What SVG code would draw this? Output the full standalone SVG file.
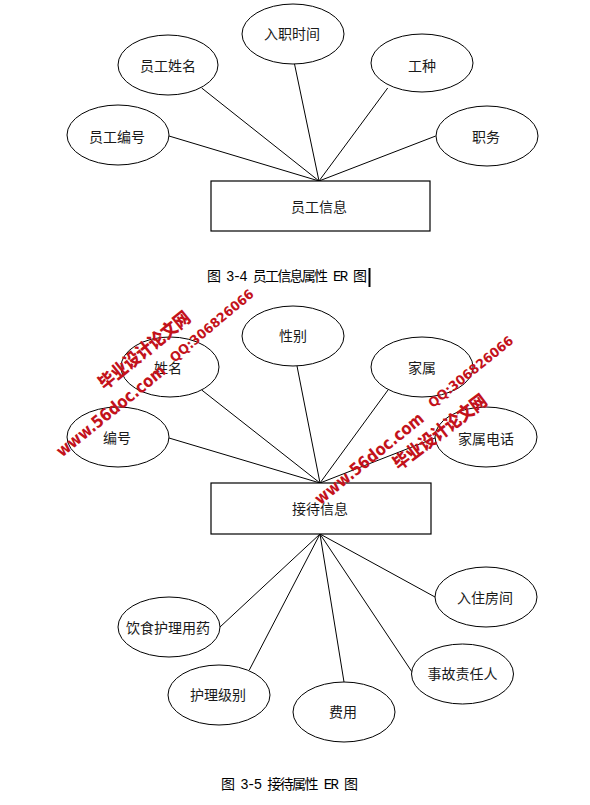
<svg xmlns="http://www.w3.org/2000/svg" width="590" height="805" viewBox="0 0 590 805">
<style>
.e{fill:#fff;stroke:#000;stroke-width:1}
.r{fill:#fff;stroke:#000;stroke-width:1.2}
.l{stroke:#000;stroke-width:1;fill:none}
.t{font-family:"Noto Sans CJK SC","Liberation Sans",sans-serif;font-size:14px;fill:#1a1a1a;text-anchor:middle;dominant-baseline:central}
.cap{font-family:"Liberation Mono","Noto Sans CJK SC",monospace;font-size:14px;fill:#000}
.wm{font-family:"Noto Sans CJK SC","Liberation Sans",sans-serif;font-weight:900;fill:#c3121b;text-anchor:middle;dominant-baseline:central}
.wl{font-family:"DejaVu Sans","Liberation Sans",sans-serif;font-weight:bold;fill:#c3121b;text-anchor:middle;dominant-baseline:central}
</style>
<rect width="590" height="805" fill="#fff"/>
<g id="connectors">
<line class="l" x1="169" y1="136" x2="319" y2="181"/>
<line class="l" x1="201.7" y1="88" x2="319" y2="181"/>
<line class="l" x1="294.3" y1="63" x2="319" y2="181"/>
<line class="l" x1="387.7" y1="88" x2="319" y2="181"/>
<line class="l" x1="435.7" y1="136" x2="319" y2="181"/>
<line class="l" x1="169" y1="438" x2="320" y2="483"/>
<line class="l" x1="201.7" y1="390" x2="320" y2="483"/>
<line class="l" x1="297" y1="366" x2="320" y2="483"/>
<line class="l" x1="388" y1="390" x2="320" y2="483"/>
<line class="l" x1="435" y1="438" x2="320" y2="483"/>
<line class="l" x1="435" y1="597" x2="320" y2="534"/>
<line class="l" x1="220" y1="627" x2="320" y2="534"/>
<line class="l" x1="249.3" y1="670" x2="320" y2="534"/>
<line class="l" x1="344" y1="682" x2="320" y2="534"/>
<line class="l" x1="412.7" y1="673" x2="320" y2="534"/>
</g>
<g id="n_yggxx"><rect class="r" x="211" y="181" width="219" height="50"/><text class="t" x="319" y="206">员工信息</text></g>
<g id="n_rzsj"><ellipse class="e" cx="293" cy="34" rx="51" ry="30"/><text class="t" x="292" y="33">入职时间</text></g>
<g id="n_ygxm"><ellipse class="e" cx="168" cy="65" rx="50" ry="30"/><text class="t" x="168" y="65">员工姓名</text></g>
<g id="n_gz"><ellipse class="e" cx="422" cy="63" rx="51" ry="29"/><text class="t" x="422" y="65">工种</text></g>
<g id="n_ygbh"><ellipse class="e" cx="118" cy="135" rx="51" ry="30"/><text class="t" x="117" y="136">员工编号</text></g>
<g id="n_zw"><ellipse class="e" cx="487" cy="136" rx="51" ry="30"/><text class="t" x="486" y="136">职务</text></g>
<g id="cap1"><text class="cap" x="207" y="280.5" textLength="160" lengthAdjust="spacing">图 3-4 员工信息属性 ER 图</text><line x1="369.5" y1="268" x2="369.5" y2="287" stroke="#000" stroke-width="2"/></g>
<g id="n_jdxx"><rect class="r" x="211" y="483" width="220" height="51"/><text class="t" x="320" y="508">接待信息</text></g>
<g id="n_xb"><ellipse class="e" cx="293" cy="336" rx="51" ry="30"/><text class="t" x="293" y="335">性别</text></g>
<g id="n_xm"><ellipse class="e" cx="170" cy="367" rx="49" ry="30"/><text class="t" x="168" y="367">姓名</text></g>
<g id="n_bh"><ellipse class="e" cx="118" cy="437" rx="51" ry="30"/><text class="t" x="117" y="437">编号</text></g>
<g id="n_js"><ellipse class="e" cx="422" cy="367" rx="51" ry="30"/><text class="t" x="422" y="367">家属</text></g>
<g id="n_jsdh"><ellipse class="e" cx="486" cy="437" rx="51" ry="30"/><text class="t" x="486" y="438">家属电话</text></g>
<g id="n_rzfj"><ellipse class="e" cx="486" cy="597" rx="51" ry="30"/><text class="t" x="485" y="597">入住房间</text></g>
<g id="n_ysh"><ellipse class="e" cx="169" cy="627" rx="51" ry="30"/><text class="t" x="168" y="627">饮食护理用药</text></g>
<g id="n_hljb"><ellipse class="e" cx="219" cy="695" rx="51" ry="30"/><text class="t" x="218" y="694">护理级别</text></g>
<g id="n_fy"><ellipse class="e" cx="344" cy="712" rx="51" ry="30"/><text class="t" x="343" y="711">费用</text></g>
<g id="n_sgzr"><ellipse class="e" cx="462.5" cy="674" rx="51" ry="30"/><text class="t" x="462.5" y="673">事故责任人</text></g>
<g id="cap2"><text class="cap" x="221" y="788.5" textLength="137" lengthAdjust="spacing">图 3-5 接待属性 ER 图</text></g>
<g id="watermark">
<text class="wm" font-size="18" transform="translate(143.3 349) rotate(-39)" textLength="112" lengthAdjust="spacingAndGlyphs">毕业设计论文网</text>
<text class="wl" font-size="17" transform="translate(110.7 410.7) rotate(-39)" textLength="135" lengthAdjust="spacingAndGlyphs">www.56doc.com</text>
<text class="wl" font-size="13" transform="translate(211.7 325.7) rotate(-40)" textLength="105" lengthAdjust="spacingAndGlyphs">QQ:306826066</text>
<text class="wm" font-size="18" transform="translate(439 430.7) rotate(-37)" textLength="112" lengthAdjust="spacingAndGlyphs">毕业设计论文网</text>
<text class="wl" font-size="17" transform="translate(369 458.3) rotate(-39)" textLength="135" lengthAdjust="spacingAndGlyphs">www.56doc.com</text>
<text class="wl" font-size="13" transform="translate(470.7 371.7) rotate(-39)" textLength="105" lengthAdjust="spacingAndGlyphs">QQ:306826066</text>
</g>
</svg>
